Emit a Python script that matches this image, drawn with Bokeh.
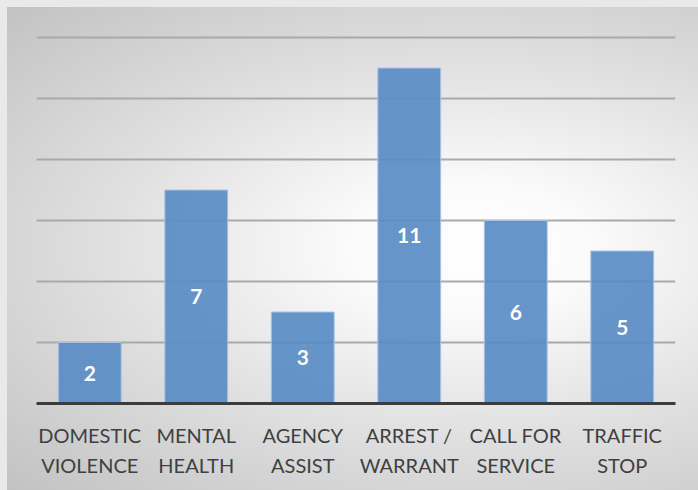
from bokeh.plotting import figure
from bokeh.models import ColumnDataSource, FixedTicker, LabelSet, Range1d
from bokeh.core.properties import value
from bokeh.embed import file_html
from bokeh.resources import INLINE

categories = ["DOMESTIC\nVIOLENCE", "MENTAL\nHEALTH", "AGENCY\nASSIST",
              "ARREST /\nWARRANT", "CALL FOR\nSERVICE", "TRAFFIC\nSTOP"]
counts = [2, 7, 3, 11, 6, 5]
grid_ticks = [2, 4, 6, 8, 10, 12]

src = ColumnDataSource(dict(
    cat=categories,
    val=counts,
    mid=[v / 2 for v in counts],
    lab=[str(v) for v in counts],
))

p = figure(width=698, height=490, x_range=categories,
           y_range=Range1d(0, 12.23),
           output_backend="svg", toolbar_location=None,
           min_border_left=36, min_border_right=23,
           min_border_top=30, min_border_bottom=87)

p.background_fill_color = None
p.border_fill_color = None
p.outline_line_color = None
p.styles = {
    "background-color": "#e9e9e9",
    "background-image": "radial-gradient(ellipse farthest-corner at 67% 50%, #ffffff 0%, #fbfbfb 18%, #e0e0e0 55%, #c2c2c2 100%)",
    "background-position": "7px 7px",
    "background-size": "691px 483px",
    "background-repeat": "no-repeat",
}

p.vbar(x="cat", top="val", width=0.59, source=src,
       fill_color="#5b8cc4", fill_alpha=0.92,
       line_color="#a8c3e3", line_width=1)

labels = LabelSet(x="cat", y="mid", text="lab", source=src,
                  text_align="center", text_baseline="middle",
                  text_color="white", text_font=value("Lato"),
                  text_font_style="bold", text_font_size="21px")
p.add_layout(labels)

p.yaxis.visible = False
p.xgrid.grid_line_color = None
p.ygrid.ticker = FixedTicker(ticks=grid_ticks)
p.ygrid.grid_line_color = "#a9a9a9"
p.ygrid.grid_line_width = 2

ax = p.xaxis[0]
ax.axis_line_color = "#3c3c3c"
ax.axis_line_width = 3
ax.major_tick_line_color = None
ax.minor_tick_line_color = None
ax.major_label_text_font = "Lato"
ax.major_label_text_font_size = "20px"
ax.major_label_text_color = "#404040"
ax.major_label_standoff = 13
ax.major_label_text_line_height = 1.25

open("out.html", "w").write(file_html(p, INLINE))
